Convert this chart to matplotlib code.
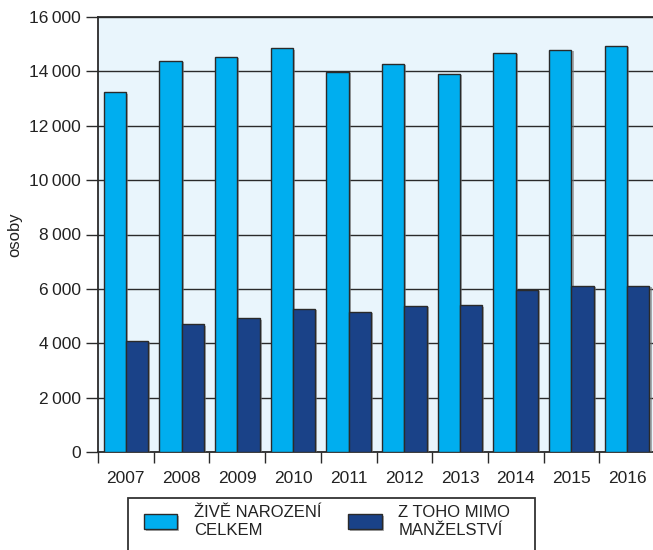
import matplotlib
matplotlib.use("Agg")
import matplotlib.pyplot as plt
import numpy as np
from matplotlib.patches import Rectangle
import matplotlib.patheffects as pe

plt.rcParams['font.family'] = ['Liberation Sans', 'DejaVu Sans']

years = ['2007', '2008', '2009', '2010', '2011', '2012', '2013', '2014', '2015', '2016']
total_births = [13230, 14380, 14530, 14850, 13980, 14270, 13900, 14680, 14790, 14930]
out_of_wedlock = [4090, 4700, 4920, 5260, 5150, 5370, 5400, 5960, 6110, 6110]
yticks = [0, 2000, 4000, 6000, 8000, 10000, 12000, 14000, 16000]
labels = ['ŽIVĚ NAROZENÍ\nCELKEM', 'Z TOHO MIMO\nMANŽELSTVÍ']

c_light = '#00AEEF'
c_dark = '#1A4288'
c_bg = '#E9F5FC'
c_line = '#2a2a2a'
c_text = '#222222'
fs = 12.5

fig = plt.figure(figsize=(6.53, 5.5), dpi=100)
ax = fig.add_axes([98/653, 98/550, 557/653, 435/550])
ax.set_facecolor(c_bg)

x = np.arange(len(years))
w = 0.4
shadow = [pe.SimplePatchShadow(offset=(1.5, -1), shadow_rgbFace='#777777', alpha=0.6), pe.Normal()]
b1 = ax.bar(x - w/2, total_births, w, color=c_light, edgecolor=c_line, linewidth=1.0, zorder=3, label=labels[0])
b2 = ax.bar(x + w/2, out_of_wedlock, w, color=c_dark, edgecolor=c_line, linewidth=1.0, zorder=3, label=labels[1])
for b in list(b1) + list(b2):
    b.set_path_effects(shadow)

ax.set_xlim(-0.5, len(years) - 0.5)
ax.set_ylim(0, 16000)
ax.set_yticks(yticks)
ax.set_yticklabels([f"{v:,}".replace(',', '\u2009') for v in yticks], fontsize=fs, color=c_text)
ax.yaxis.grid(True, color=c_line, linewidth=1.0, zorder=1)
ax.set_axisbelow(True)

ax.set_xticks(x)
ax.set_xticklabels(years, fontsize=fs, color=c_text)
ax.set_xticks(np.arange(-0.5, len(years) + 0.5, 1.0), minor=True)
ax.tick_params(axis='x', which='major', length=0, pad=14)
ax.tick_params(axis='x', which='minor', length=8, width=1.0, color=c_line, direction='out')
ax.tick_params(axis='y', length=8.5, width=1.0, color=c_line, pad=4)

for side in ['left', 'bottom', 'top']:
    ax.spines[side].set_color(c_line)
    ax.spines[side].set_linewidth(1.3)
ax.spines['right'].set_visible(False)

ax.set_ylabel('osoby', fontsize=12, color=c_text, labelpad=5)

# legend frame
fig.patches.append(Rectangle((128/653, -0.05), (535-128)/653, (0.05 + 52/550),
                             transform=fig.transFigure, facecolor='white',
                             edgecolor='#333333', linewidth=1.3, zorder=0))
leg = fig.legend(handles=[b1, b2], labels=labels, loc='upper left',
                 bbox_to_anchor=(144/653, 1 - 505/550), ncol=2, frameon=False,
                 fontsize=12, borderpad=0, borderaxespad=0,
                 handlelength=2.0, handleheight=1.0, handletextpad=1.0,
                 columnspacing=1.6, labelspacing=0.2)
for t in leg.get_texts():
    t.set_color(c_text)
    t.set_linespacing(1.25)

fig.savefig('out.png', dpi=100)
